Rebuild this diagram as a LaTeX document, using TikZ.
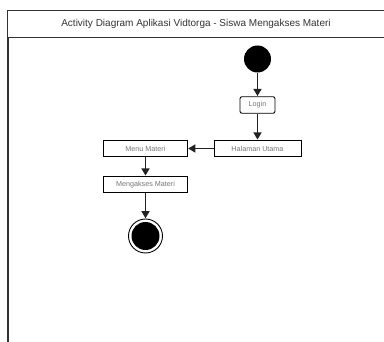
\documentclass[tikz,border=0pt]{standalone}
\usepackage{fontspec}
\setmainfont{Liberation Sans}
\usetikzlibrary{arrows.meta}
\definecolor{frameline}{HTML}{333333}
\definecolor{labeltext}{HTML}{777777}
\definecolor{titletext}{HTML}{333333}
\definecolor{flowline}{HTML}{222222}
\begin{document}
\begin{tikzpicture}[x=1pt,y=-1pt,
  actbox/.style={draw=black, line width=0.9pt, fill=white, minimum height=16.5pt,
    inner sep=0pt, font=\fontsize{7.2}{8}\selectfont, text=labeltext},
  flow/.style={draw=flowline, line width=1.2pt, -{Triangle[length=7pt,width=8pt]}, shorten >=0.3pt}
]
\useasboundingbox (0,0) rectangle (384,342);
% diagram frame and title band
\draw[frameline, line width=0.9pt] (7.5,343) -- (7.5,10.5) -- (390,10.5);
\draw[frameline, line width=0.9pt] (7.5,37.5) -- (390,37.5);
\draw[frameline, line width=2pt] (7.5,37.5) -- (7.5,343);
\node[font=\fontsize{10}{12}\selectfont, text=titletext] (title) at (196,24)
  {Activity Diagram Aplikasi Vidtorga - Siswa Mengakses Materi};
% start node
\node[circle, fill=black, minimum size=27pt, inner sep=0pt] (start) at (257.5,59) {};
% activities
\node[actbox, rounded corners=2pt, minimum width=35pt] (login) at (257.5,105) {Login};
\node[actbox, minimum width=87pt] (home) at (257.5,148.5) {Halaman Utama};
\node[actbox, minimum width=84pt] (menu) at (145.5,148.5) {Menu Materi};
\node[actbox, minimum width=84pt] (access) at (145.5,184.5) {Mengakses Materi};
% final node
\node[circle, draw=black, line width=0.9pt, fill=white, minimum size=34pt, inner sep=0pt] (final) at (145.5,236) {};
\node[circle, fill=black, minimum size=28pt, inner sep=0pt] (finalcore) at (145.5,236) {};
% control flows
\draw[flow] (start) -- (login);
\draw[flow] (login) -- (home);
\draw[flow] (home) -- (menu);
\draw[flow] (menu) -- (access);
\draw[flow] (access) -- (final);
\end{tikzpicture}
\end{document}
